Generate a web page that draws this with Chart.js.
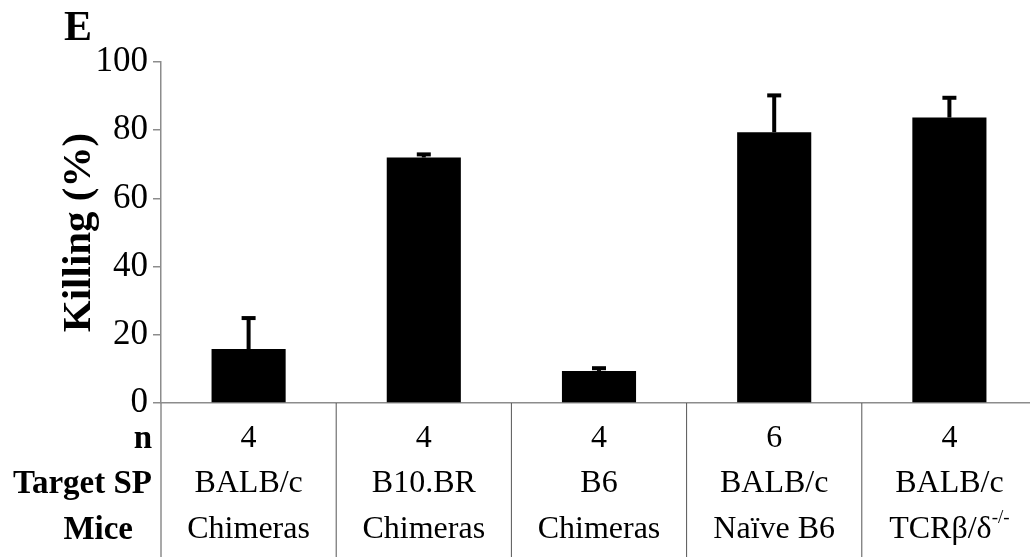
<!DOCTYPE html>
<html>
<head>
<meta charset="utf-8">
<script src="https://cdn.jsdelivr.net/npm/chart.js@4/dist/chart.umd.min.js"></script>
<style>
  html, body { margin: 0; padding: 0; background: #fff; overflow: hidden; }
  canvas { display: block; }
</style>
</head>
<body>
<canvas id="c" width="1037" height="559"></canvas>
<script>
// ---- data ----
const categories = ['BALB/c Chimeras', 'B10.BR Chimeras', 'B6 Chimeras', 'BALB/c Naïve B6', 'BALB/c TCRβ/δ-/-'];
const killing = [15.8, 72.0, 9.4, 79.4, 83.7];
const errorUpper = [25.2, 73.2, 10.5, 90.5, 89.8];
const nValues = ['4', '4', '4', '6', '4'];
const targetSP = ['BALB/c', 'B10.BR', 'B6', 'BALB/c', 'BALB/c'];
const mice = ['Chimeras', 'Chimeras', 'Chimeras', 'Naïve B6', 'TCRβ/δ'];
const miceSup = ['', '', '', '', '-/-'];
const rowTitles = ['n', 'Target SP', 'Mice'];
const yTicks = [0, 20, 40, 60, 80, 100];

const SERIF = '"Liberation Serif", "Times New Roman", serif';
const AXIS_GRAY = '#8c8c8c';

const tablePlugin = {
  id: 'tablePlugin',
  afterDatasetsDraw(chart) {
    const ctx = chart.ctx;
    const x = chart.scales.x;
    const y = chart.scales.y;
    const area = chart.chartArea;
    const meta = chart.getDatasetMeta(0);
    ctx.save();
    // error bars
    ctx.strokeStyle = '#000';
    ctx.lineWidth = 4;
    meta.data.forEach((bar, i) => {
      const cx = bar.x;
      const yTop = y.getPixelForValue(errorUpper[i]);
      const yBar = y.getPixelForValue(killing[i]);
      ctx.beginPath();
      ctx.moveTo(cx, yBar);
      ctx.lineTo(cx, yTop);
      ctx.stroke();
      ctx.beginPath();
      ctx.moveTo(cx - 7, yTop + 1);
      ctx.lineTo(cx + 7, yTop + 1);
      ctx.stroke();
    });
    // extended y axis line
    const bottom = chart.height - 2;
    ctx.strokeStyle = AXIS_GRAY;
    ctx.lineWidth = 1.5;
    ctx.beginPath();
    ctx.moveTo(area.left, area.bottom);
    ctx.lineTo(area.left, bottom);
    ctx.stroke();
    // dividers
    ctx.strokeStyle = '#555';
    ctx.lineWidth = 1;
    for (let i = 1; i < categories.length; i++) {
      const px = (x.getPixelForValue(i - 1) + x.getPixelForValue(i)) / 2;
      ctx.beginPath();
      ctx.moveTo(px, area.bottom);
      ctx.lineTo(px, bottom);
      ctx.stroke();
    }
    // table text
    const rowY = [area.bottom + 36, area.bottom + 81, area.bottom + 127];
    const titleRight = [area.left - 9, area.left - 9, area.left - 28];
    ctx.fillStyle = '#000';
    ctx.textBaseline = 'middle';
    ctx.textAlign = 'right';
    ctx.font = 'bold 33px ' + SERIF;
    rowTitles.forEach((t, r) => ctx.fillText(t, titleRight[r], rowY[r]));
    ctx.textAlign = 'center';
    categories.forEach((c, i) => {
      const cx = x.getPixelForValue(i);
      ctx.font = '32px ' + SERIF;
      ctx.fillText(nValues[i], cx, rowY[0]);
      ctx.fillText(targetSP[i], cx, rowY[1]);
      if (miceSup[i]) {
        const mainW = ctx.measureText(mice[i]).width;
        ctx.font = '19px ' + SERIF;
        const supW = ctx.measureText(miceSup[i]).width;
        const start = cx - (mainW + supW) / 2;
        ctx.textAlign = 'left';
        ctx.font = '32px ' + SERIF;
        ctx.fillText(mice[i], start, rowY[2]);
        ctx.font = '19px ' + SERIF;
        ctx.fillText(miceSup[i], start + mainW, rowY[2] - 12);
        ctx.textAlign = 'center';
      } else {
        ctx.fillText(mice[i], cx, rowY[2]);
      }
    });
    // panel letter
    ctx.textAlign = 'left';
    ctx.textBaseline = 'alphabetic';
    ctx.font = 'bold 42px ' + SERIF;
    ctx.fillText('E', 64, 40);
    ctx.restore();
  }
};

new Chart(document.getElementById('c'), {
  type: 'bar',
  data: {
    labels: categories,
    datasets: [{
      data: killing,
      backgroundColor: '#000',
      borderWidth: 0,
      categoryPercentage: 1.0,
      barPercentage: 0.423
    }]
  },
  options: {
    responsive: false,
    animation: false,
    devicePixelRatio: 1,
    layout: { padding: { top: 62, left: 0, right: 0, bottom: 0 } },
    plugins: { legend: { display: false }, tooltip: { enabled: false } },
    scales: {
      x: {
        grid: { display: false, drawTicks: false },
        border: { display: true, color: AXIS_GRAY, width: 1.5 },
        ticks: { display: false },
        afterFit(scale) { scale.height = 156; }
      },
      y: {
        min: 0,
        max: 100,
        afterBuildTicks(scale) { scale.ticks = yTicks.map(v => ({ value: v })); },
        grid: { drawOnChartArea: false, drawTicks: true, tickLength: 8, color: AXIS_GRAY, lineWidth: 1.5 },
        border: { display: true, color: AXIS_GRAY, width: 1.5 },
        ticks: { color: '#000', font: { family: SERIF, size: 35 }, padding: 5 },
        title: {
          display: true,
          text: 'Killing (%)',
          color: '#000',
          font: { family: SERIF, size: 41, weight: 'bold' },
          padding: { top: 55, bottom: 0 }
        },
        afterFit(scale) { scale.width = 161; }
      }
    }
  },
  plugins: [tablePlugin]
});
</script>
</body>
</html>
